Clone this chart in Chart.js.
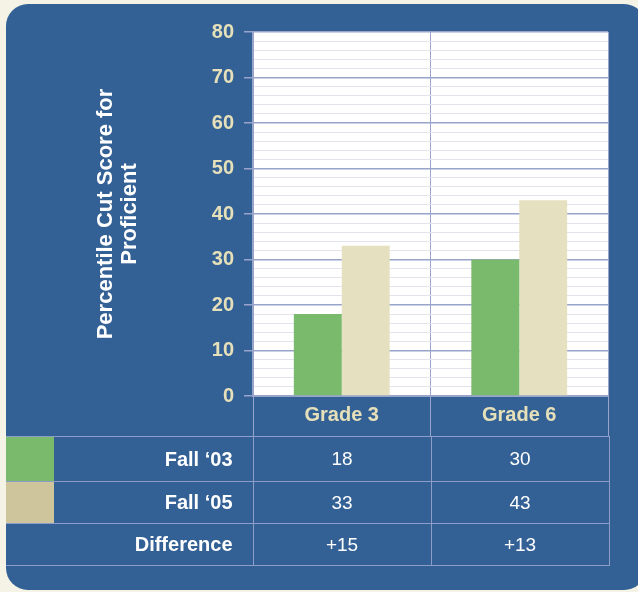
<!DOCTYPE html>
<html>
<head>
<meta charset="utf-8">
<script src="https://cdn.jsdelivr.net/npm/chart.js@4"></script>
<style>
  html, body { margin: 0; padding: 0; }
  body { width: 638px; height: 592px; background: #f4f3e6; position: relative; overflow: hidden;
         font-family: "Liberation Sans", Arial, sans-serif; }
  #panel { position: absolute; left: 6px; top: 4px; width: 640px; height: 586px;
           background: #336195; border-radius: 22px; }
  #wrap { position: absolute; left: 0; top: 0; width: 638px; height: 440px; }
  #tbl { position: absolute; left: 6px; top: 436px; border-collapse: collapse; color: #fff; table-layout: fixed; }
  #tbl td { border-top: 1px solid #8e9cc8; border-bottom: 1px solid #8e9cc8; padding: 0; font-size: 19px; }
  #tbl td.lbl { width: 247px; text-align: right; font-weight: bold; padding-right: 20px; box-sizing: border-box; position: relative; font-size: 20px; }
  #tbl td.val { text-align: center; border-left: 1px solid #8e9cc8; border-right: 1px solid #8e9cc8; }
  .sw { position: absolute; left: 0; top: 0; bottom: 0; width: 48px; }
</style>
</head>
<body>
<div id="panel"></div>
<div id="wrap"><canvas id="chart" width="638" height="440"></canvas></div>
<table id="tbl"></table>
<script>
// categories and series
const grades = ['Grade 3', 'Grade 6'];
const fall03 = [18, 30];
const fall05 = [33, 43];
const difference = ['+15', '+13'];
const seriesNames = ['Fall \u201803', 'Fall \u201805'];
const barColors = ['#7aba6c', '#e5e0bf'];
const swatchColors = ['#7aba6c', '#cfc59c'];

const majorLine = '#98a4ca';
const minorLine = '#e2e3ee';
const tickCream = '#e6e0ba';

// fond blanc de la zone de tracé
const plotBg = {
    id: 'plotBg',
    beforeDraw(chart) {
        const a = chart.chartArea;
        chart.ctx.save();
        chart.ctx.fillStyle = '#ffffff';
        chart.ctx.fillRect(a.left, a.top, a.right - a.left, a.bottom - a.top);
        chart.ctx.restore();
    }
};

new Chart(document.getElementById('chart'), {
    type: 'bar',
    data: {
        labels: grades,
        datasets: [
            { label: seriesNames[0], data: fall03, backgroundColor: barColors[0] },
            { label: seriesNames[1], data: fall05, backgroundColor: barColors[1] }
        ]
    },
    options: {
        responsive: false,
        animation: false,
        devicePixelRatio: 1,
        layout: { padding: { left: 0, right: 30, top: 32, bottom: 0 } },
        plugins: { legend: { display: false }, tooltip: { enabled: false } },
        datasets: { bar: { categoryPercentage: 0.54, barPercentage: 1 } },
        scales: {
            x: {
                afterFit(scale) { scale.height = 44; },
                grid: { color: majorLine, tickColor: majorLine, tickLength: 40, offset: true },
                border: { color: majorLine, width: 2 },
                ticks: { color: tickCream, padding: -33, font: { family: 'Liberation Sans', size: 20, weight: 'bold' } }
            },
            y: {
                min: 0, max: 80,
                afterFit(scale) { scale.width = 253; },
                grid: {
                    color: ctx => (ctx.tick && ctx.tick.value % 10 === 0) ? majorLine : minorLine,
                    tickColor: ctx => (ctx.tick && ctx.tick.value % 10 === 0) ? majorLine : 'rgba(0,0,0,0)',
                    lineWidth: ctx => (ctx.tick && ctx.tick.value % 10 === 0) ? 1.5 : 1,
                    tickLength: 9
                },
                border: { color: majorLine, width: 2 },
                ticks: {
                    stepSize: 2, autoSkip: false, padding: 10, color: tickCream,
                    font: { family: 'Liberation Sans', size: 20, weight: 'bold' },
                    callback: v => (v % 10 === 0 ? v : '')
                },
                title: {
                    display: true,
                    text: ['Percentile Cut Score for', 'Proficient'],
                    color: '#ffffff',
                    font: { family: 'Liberation Sans', size: 22, weight: 'bold', lineHeight: 1.1 },
                    padding: { top: 94, bottom: 0 }
                }
            }
        }
    },
    plugins: [plotBg]
});

// tableau de données sous le graphique
const rows = [
    { name: seriesNames[0], vals: fall03, sw: swatchColors[0], h: 45 },
    { name: seriesNames[1], vals: fall05, sw: swatchColors[1], h: 42 },
    { name: 'Difference', vals: difference, sw: null, h: 42 }
];
const tbl = document.getElementById('tbl');
rows.forEach(r => {
    const tr = document.createElement('tr');
    tr.style.height = r.h + 'px';
    const td = document.createElement('td');
    td.className = 'lbl';
    if (r.sw) {
        const s = document.createElement('div');
        s.className = 'sw';
        s.style.background = r.sw;
        td.appendChild(s);
    }
    td.appendChild(document.createTextNode(r.name));
    tr.appendChild(td);
    r.vals.forEach(v => {
        const c = document.createElement('td');
        c.className = 'val';
        c.style.width = '177px';
        c.textContent = v;
        tr.appendChild(c);
    });
    tbl.appendChild(tr);
});
</script>
</body>
</html>
